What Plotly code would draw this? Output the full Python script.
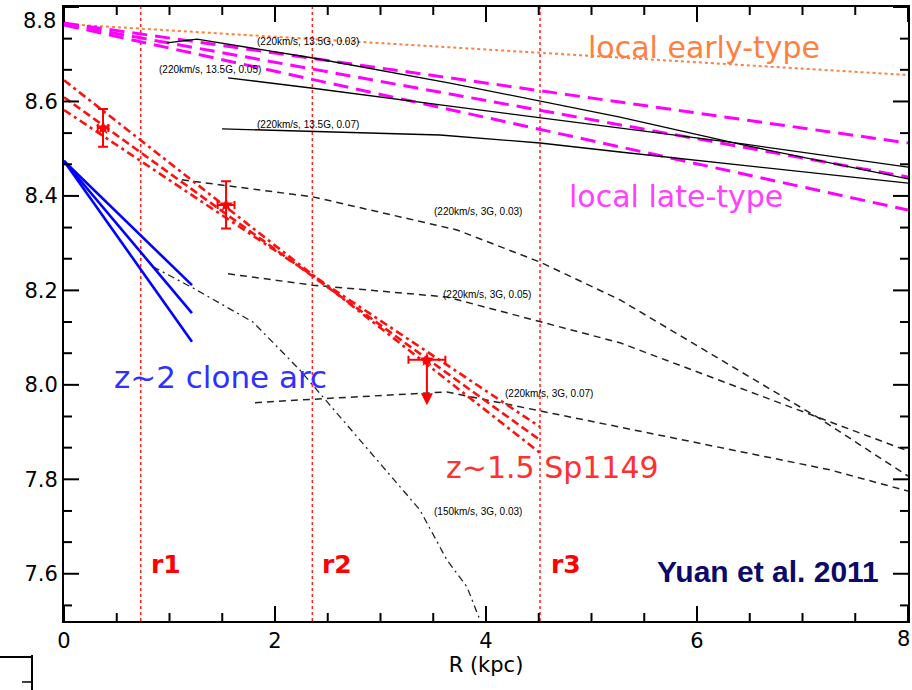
import plotly.graph_objects as go

# ---------------- data ----------------
early_x = [0.0, 8.0]
early_y = [8.764, 8.656]

late_x = [0.0, 8.0]
late_hi_y = [8.766, 8.512]
late_mid_y = [8.764, 8.440]
late_lo_y = [8.762, 8.370]

m135_03_x = [0.976, 1.261, 2.360, 3.659, 5.270, 6.436, 8.0]
m135_03_y = [8.724, 8.732, 8.692, 8.639, 8.567, 8.508, 8.436]
m135_05_x = [1.555, 2.360, 3.659, 5.270, 6.436, 8.0]
m135_05_y = [8.650, 8.628, 8.590, 8.544, 8.510, 8.461]
m135_07_x = [1.498, 2.237, 3.564, 4.512, 5.270, 8.0]
m135_07_y = [8.542, 8.537, 8.529, 8.512, 8.493, 8.427]

m3_03_x = [1.118, 2.360, 3.725, 4.512, 5.270, 6.028, 7.137, 8.0]
m3_03_y = [8.434, 8.398, 8.328, 8.260, 8.180, 8.080, 7.932, 7.807]
m3_05_x = [1.555, 2.360, 3.630, 5.270, 7.137, 8.0]
m3_05_y = [8.235, 8.211, 8.186, 8.089, 7.932, 7.860]
m3_07_x = [1.810, 2.237, 3.630, 5.270, 7.261, 8.0]
m3_07_y = [7.962, 7.968, 7.985, 7.911, 7.820, 7.775]

m150_x = [0.844, 1.223, 1.791, 2.237, 2.521, 2.967, 3.374, 3.630, 3.820, 3.943]
m150_y = [8.250, 8.205, 8.133, 8.031, 7.957, 7.841, 7.735, 7.629, 7.572, 7.502]

clone_x = [0.0, 1.213]
clone_a_y = [8.474, 8.211]
clone_b_y = [8.474, 8.152]
clone_c_y = [8.474, 8.091]

sp_x = [0.0, 4.512]
sp_top_y = [8.645, 7.856]
sp_mid_y = [8.609, 7.883]
sp_bot_y = [8.582, 7.911]

pt_x = [0.37, 1.536, 3.44]
pt_y = [8.544, 8.381, 8.053]
pt_xerr = [0.05, 0.08, 0.175]
pt_yerr = [0.04, 0.05, 0.0]
limit_end_y = 7.957

r_names = ["r1", "r2", "r3"]
r_pos = [0.727, 2.354, 4.512]

x_ticks = [0, 2, 4, 6, 8]
x_ticklabels = ["0", "2", "4", "6", ""]
x_minor_ticks = [0.5, 1.0, 1.5, 2.5, 3.0, 3.5, 4.5, 5.0, 5.5, 6.5, 7.0, 7.5]
y_ticks = [7.6, 7.8, 8.0, 8.2, 8.4, 8.6, 8.8]
y_ticklabels = ["7.6", "7.8", "8.0", "8.2", "8.4", "8.6", ""]
y_minor_ticks = [7.533, 7.667, 7.733, 7.867, 7.933, 8.067, 8.133, 8.267,
                 8.333, 8.467, 8.533, 8.667, 8.733]

YMIN, YMAX = 7.5, 8.8
XMIN, XMAX = 0.0, 8.0

W, H = 912, 690
ML, MR, MT, MB = 64, 4, 7, 69
PLOT_W = W - ML - MR
PLOT_H = H - MT - MB

fig = go.Figure()

def line(x, y, color, width, dash="solid"):
    fig.add_trace(go.Scatter(x=x, y=y, mode="lines",
                             line=dict(color=color, width=width, dash=dash),
                             hoverinfo="skip", showlegend=False))

for rp in r_pos:
    line([rp, rp], [YMIN, YMAX], "#ff2020", 1.5, "dot")

line(early_x, early_y, "#ff8040", 2, "dot")
for yy in (late_hi_y, late_mid_y, late_lo_y):
    line(late_x, yy, "#ff00ff", 3, "15px,8px")

line(m135_03_x, m135_03_y, "black", 1.3)
line(m135_05_x, m135_05_y, "black", 1.3)
line(m135_07_x, m135_07_y, "black", 1.3)

for xx, yy in ((m3_03_x, m3_03_y), (m3_05_x, m3_05_y), (m3_07_x, m3_07_y)):
    line(xx, yy, "#222222", 1.5, "7px,5px")

line(m150_x, m150_y, "#222222", 1.3, "7px,4px,2px,4px")

for yy in (clone_a_y, clone_b_y, clone_c_y):
    line(clone_x, yy, "#0000ff", 2.6)

line(sp_x, sp_top_y, "#ff1010", 2.6, "8px,4px,3px,4px")
line(sp_x, sp_mid_y, "#ff1010", 2.6, "8px,4px")
line(sp_x, sp_bot_y, "#ff1010", 2.6, "8px,4px,3px,4px")

fig.add_trace(go.Scatter(
    x=pt_x, y=pt_y, mode="markers",
    marker=dict(symbol="star", size=11, color="#ff0000"),
    error_x=dict(type="data", array=pt_xerr, color="#ff0000", thickness=2, width=4),
    error_y=dict(type="data", array=pt_yerr, color="#ff0000", thickness=2, width=5),
    hoverinfo="skip", showlegend=False))

# ---- inside tick marks on all four sides, built from the tick arrays ----
def px_to_dx(p):
    return p * (XMAX - XMIN) / PLOT_W

def px_to_dy(p):
    return p * (YMAX - YMIN) / PLOT_H

tx, ty = [], []
for vals, ln in ((x_ticks, 15), (x_minor_ticks, 8)):
    for v in vals:
        tx += [v, v, None, v, v, None]
        ty += [YMIN, YMIN + px_to_dy(ln), None, YMAX, YMAX - px_to_dy(ln), None]
for vals, ln in ((y_ticks, 15), (y_minor_ticks, 8)):
    for v in vals:
        tx += [XMIN, XMIN + px_to_dx(ln), None, XMAX, XMAX - px_to_dx(ln), None]
        ty += [v, v, None, v, v, None]
fig.add_trace(go.Scatter(x=tx, y=ty, mode="lines", line=dict(color="black", width=2),
                         hoverinfo="skip", showlegend=False, connectgaps=False,
                         cliponaxis=False))

annotations = []
annotations.append(dict(x=pt_x[2], y=limit_end_y, ax=pt_x[2], ay=pt_y[2],
                        xref="x", yref="y", axref="x", ayref="y", text="",
                        showarrow=True, arrowhead=2, arrowsize=1.2, arrowwidth=2,
                        arrowcolor="#ff0000", standoff=0, startstandoff=0))

small_font = dict(family="Liberation Sans, Arial, sans-serif", size=10, color="black")
small_labels = [
    ("(220km/s, 13.5G, 0.03)", 2.313, 8.728),
    ("(220km/s, 13.5G, 0.05)", 1.384, 8.667),
    ("(220km/s, 13.5G, 0.07)", 2.313, 8.552),
    ("(220km/s, 3G, 0.03)", 3.924, 8.366),
    ("(220km/s, 3G, 0.05)", 4.010, 8.192),
    ("(220km/s, 3G, 0.07)", 4.597, 7.981),
    ("(150km/s, 3G, 0.03)", 3.924, 7.731),
]
for t, xx, yy in small_labels:
    annotations.append(dict(x=xx, y=yy, text=t, showarrow=False, font=small_font,
                            xref="x", yref="y"))

big_family = "DejaVu Sans, sans-serif"
big_labels = [
    ("local early-type", 6.066, 8.715, "#ff7f3f", 30),
    ("local late-type", 5.801, 8.398, "#ff40ff", 30),
    ("z~2 clone arc", 1.479, 8.017, "#3030ff", 31),
    ("z~1.5 Sp1149", 4.635, 7.824, "#ff3030", 30),
]
for t, xx, yy, c, s in big_labels:
    annotations.append(dict(x=xx, y=yy, text=t, showarrow=False,
                            font=dict(family=big_family, size=s, color=c),
                            xref="x", yref="y"))

r_label_x = [0.967, 2.588, 4.758]
for name, xx in zip(r_names, r_label_x):
    annotations.append(dict(x=xx, y=7.619, text="<b>" + name + "</b>", showarrow=False,
                            font=dict(family="DejaVu Sans, sans-serif", size=25, color="#ff0000"),
                            xref="x", yref="y"))

annotations.append(dict(x=6.673, y=7.604, text="<b>Yuan et al. 2011</b>", showarrow=False,
                        font=dict(family="Liberation Sans, Arial, sans-serif",
                                  size=30, color="#0b0a6b"),
                        xref="x", yref="y"))

axis_font = dict(family="DejaVu Sans, sans-serif", size=21, color="black")

annotations.append(dict(x=0, xref="paper", xanchor="right", xshift=-6,
                        y=YMAX, yref="y", yanchor="top", yshift=0,
                        text="8.8", showarrow=False, font=axis_font))
annotations.append(dict(x=1, xref="paper", xanchor="right", xshift=4,
                        y=0, yref="paper", yanchor="top", yshift=-4,
                        text="8", showarrow=False, font=axis_font))

# stray fragment at the lower-left corner (paper coordinates)
shapes = [
    dict(type="line", xref="paper", yref="paper", x0=-0.0758, x1=-0.0379, y0=-0.0586, y1=-0.0586,
         line=dict(color="black", width=2)),
    dict(type="line", xref="paper", yref="paper", x0=-0.0379, x1=-0.0379, y0=-0.0554, y1=-0.115,
         line=dict(color="black", width=2)),
    dict(type="line", xref="paper", yref="paper", x0=-0.0498, x1=-0.0379, y0=-0.0993, y1=-0.0993,
         line=dict(color="black", width=1.5)),
]

fig.update_layout(
    template="none",
    width=W, height=H,
    margin=dict(l=ML, r=MR, t=MT, b=MB),
    paper_bgcolor="white", plot_bgcolor="white",
    annotations=annotations, shapes=shapes,
    showlegend=False,
    xaxis=dict(range=[XMIN, XMAX], showgrid=False, zeroline=False, automargin=False,
               showline=True, linecolor="black", linewidth=2, mirror=True,
               ticks="", tickmode="array", tickvals=x_ticks, ticktext=x_ticklabels,
               tickfont=axis_font,
               title=dict(text="R (kpc)", font=axis_font, standoff=2)),
    yaxis=dict(range=[YMIN, YMAX], showgrid=False, zeroline=False, automargin=False,
               showline=True, linecolor="black", linewidth=2, mirror=True,
               ticks="", tickmode="array", tickvals=y_ticks, ticktext=y_ticklabels,
               tickfont=axis_font),
)

fig.write_html("out.html")
